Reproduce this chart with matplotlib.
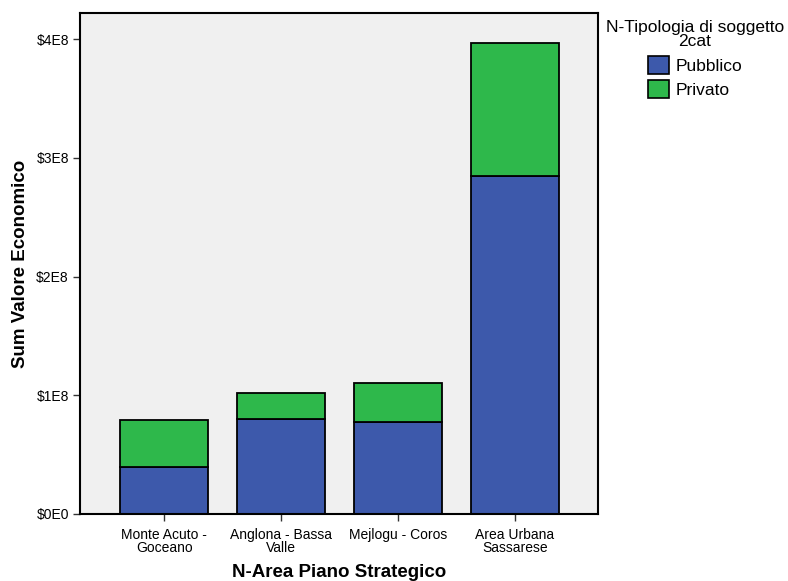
import matplotlib
matplotlib.use("Agg")
import matplotlib.pyplot as plt
from matplotlib.patches import Patch

categories = ["Monte Acuto -\nGoceano", "Anglona - Bassa\nValle", "Mejlogu - Coros", "Area Urbana\nSassarese"]
pubblico = [0.396e8, 0.80e8, 0.775e8, 2.846e8]
privato = [0.394e8, 0.219e8, 0.328e8, 1.120e8]
yticks = [0, 1e8, 2e8, 3e8, 4e8]
ytick_labels = ["$0E0", "$1E8", "$2E8", "$3E8", "$4E8"]
series_names = ["Pubblico", "Privato"]
colors = ["#3D59AB", "#2EB84B"]

plt.rcParams['font.family'] = ['Liberation Sans', 'DejaVu Sans']

fig = plt.figure(figsize=(7.88, 5.81), dpi=100)
ax = fig.add_axes([80/788, 67/581, 518/788, 501/581])
ax.set_facecolor("#F0F0F0")

x = list(range(len(categories)))
w = 0.75
ax.bar(x, pubblico, width=w, color=colors[0], edgecolor="black", linewidth=1.3, zorder=2)
ax.bar(x, privato, width=w, bottom=pubblico, color=colors[1], edgecolor="black", linewidth=1.3, zorder=2)

ax.set_xlim(-0.72, 3.71)
ax.set_ylim(0, 4.219e8)
ax.set_yticks(yticks)
ax.set_yticklabels(ytick_labels)
ax.set_xticks(x)
ax.set_xticklabels(categories, linespacing=0.95)
ax.tick_params(axis='both', labelsize=10, length=5, width=1, color="#333333", direction="out")
ax.tick_params(axis='x', pad=5)
ax.tick_params(axis='y', pad=3)
for s in ax.spines.values():
    s.set_linewidth(1.5)
    s.set_color("black")

ax.set_xlabel("N-Area Piano Strategico", fontsize=13.5, fontweight="bold", labelpad=6)
ax.set_ylabel("Sum Valore Economico", fontsize=13.5, fontweight="bold", labelpad=5)

handles = [Patch(facecolor=colors[i], edgecolor="black", linewidth=1.2, label=series_names[i]) for i in range(2)]
leg = fig.legend(handles=handles, title="N-Tipologia di soggetto\n2cat", loc="upper center",
                 bbox_to_anchor=(695/788, 1 - 13/581), frameon=False, fontsize=12.5,
                 title_fontsize=12.5, handlelength=1.2, handleheight=1.2, handletextpad=0.4,
                 labelspacing=0.38, borderaxespad=0)
leg._legend_box.align = "center"
leg.get_title().set_multialignment("center")
leg.get_title().set_linespacing(0.95)

fig.savefig("out.png", dpi=100)
